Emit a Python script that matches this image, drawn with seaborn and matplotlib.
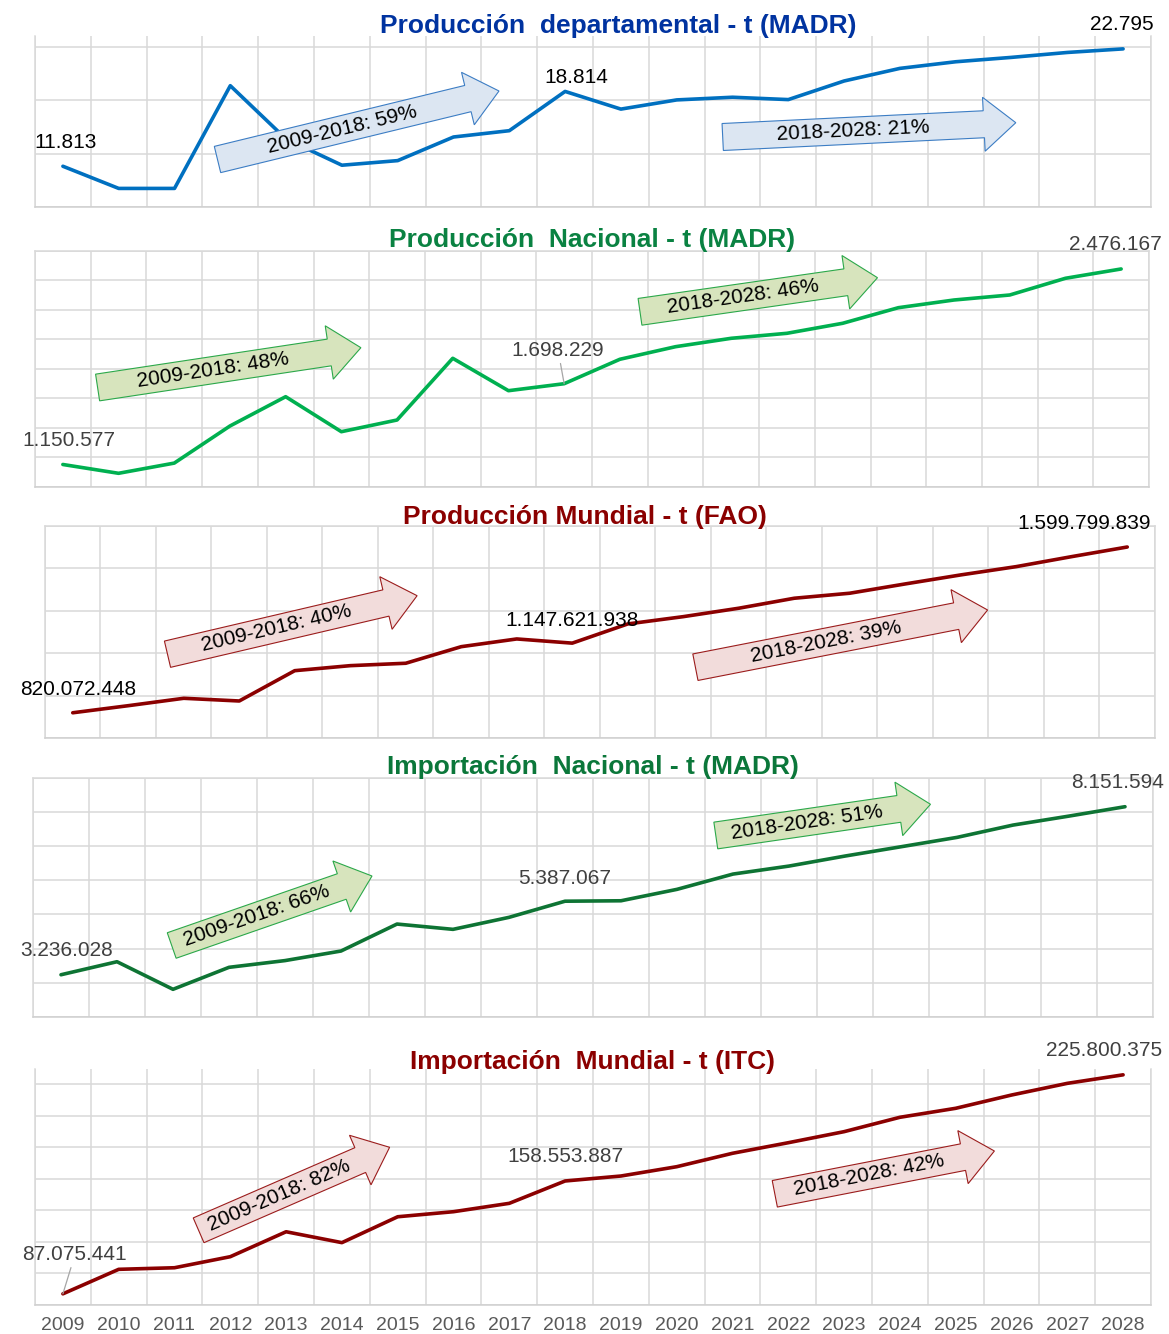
import numpy as np
import pandas as pd
import matplotlib
matplotlib.use("Agg")
import matplotlib.pyplot as plt
import seaborn as sns
from matplotlib.patches import Polygon
from matplotlib.transforms import Affine2D

# datos (t)
years = list(range(2009, 2029))
prod_dep = [11813, 9738, 9738, 19350, 14360, 11910, 12340, 14550, 15140, 18814,
            17160, 18020, 18270, 18050, 19790, 20970, 21590, 22000, 22460, 22795]
prod_nac = [1150577, 1090850, 1160000, 1411500, 1610200, 1372900, 1452200, 1870550, 1650900, 1698229,
            1863800, 1949200, 2006150, 2040000, 2107900, 2213600, 2265800, 2299700, 2413000, 2476167]
prod_mun = [820072448, 853400000, 888200000, 875500000, 1018100000, 1041700000, 1053000000, 1131000000,
            1167300000, 1147621938, 1237900000, 1272200000, 1311800000, 1358800000, 1382400000,
            1426100000, 1468500000, 1507500000, 1554600000, 1599799839]
imp_nac = [3236028, 3617000, 2810000, 3453000, 3650000, 3930000, 4719000, 4564000, 4915000, 5387067,
           5400000, 5734000, 6181000, 6415000, 6708000, 6980000, 7254000, 7614000, 7877000, 8151594]
imp_mun = [87075441, 102600000, 103600000, 110600000, 126400000, 119500000, 135900000, 139100000,
           144400000, 158553887, 161700000, 167600000, 176100000, 182800000, 189800000, 198900000,
           204600000, 213000000, 220400000, 225800375]

titles = ["Producción  departamental - t (MADR)", "Producción  Nacional - t (MADR)",
          "Producción Mundial - t (FAO)", "Importación  Nacional - t (MADR)",
          "Importación  Mundial - t (ITC)"]
growth_1 = ["2009-2018: 59%", "2009-2018: 48%", "2009-2018: 40%", "2009-2018: 66%", "2009-2018: 82%"]
growth_2 = ["2018-2028: 21%", "2018-2028: 46%", "2018-2028: 39%", "2018-2028: 51%", "2018-2028: 42%"]
label_idx = [0, 9, 19]

series = [prod_dep, prod_nac, prod_mun, imp_nac, imp_mun]

# estilos / posiciones (pixeles, origen arriba-izquierda)
W, H = 1169, 1334
rects = [(35, 36, 1151, 207), (35, 250.7, 1149, 486.7), (45, 525.7, 1155, 738.3),
         (33, 777.7, 1153, 1017), (35, 1069.3, 1151, 1305)]
ylims = [(8000, 24000), (1.0e6, 2.6e6), (7.0e8, 1.7e9), (2.0e6, 9.0e6), (8.0e7, 2.293e8)]
yticks = [np.arange(8000, 23001, 5000), np.arange(1.0e6, 2.6e6 + 1, 2e5), np.arange(7e8, 1.7e9 + 1, 2e8),
          np.arange(2e6, 9e6 + 1, 1e6), np.arange(8e7, 2.2e8 + 1, 2e7)]
top_spine = [False, True, True, True, False]
line_colors = ["#0070C0", "#00B050", "#8B0000", "#0E7434", "#8B0000"]
title_colors = ["#0033A0", "#0A8242", "#8B0000", "#0B773A", "#8B0000"]
label_colors = ["black", "#404040", "black", "#404040", "#404040"]
title_pos = [(618, 26.5), (592, 240.5), (585, 517), (593, 767), (593, 1062.5)]
label_off = [[(3, 24), (11, 14), (-1, 24)],
             [(6, 24), (-6, 33), (-6, 24)],
             [(5, 23), (0, 23), (-43, 24)],
             [(6, 24), (0, 23), (-7, 24)],
             [(12, 39), (0, 24), (-19, 24)]]
leader = [[False, False, False], [False, True, False], [False] * 3, [False] * 3, [True, False, False]]
arrows = [[((217.5, 159.5), (499, 91)), ((722.7, 137), (1015.8, 122.7))],
          [((97.6, 387.5), (360.9, 347.7)), ((640, 311.8), (877.5, 277.7))],
          [((167.5, 654.2), (417.1, 595.7)), ((695.4, 667.2), (987.6, 610))],
          [((171.7, 945.5), (372, 876)), ((715.8, 835.5), (930.5, 804.3))],
          [((198.6, 1230.3), (389.6, 1147.3)), ((774.8, 1193.8), (994.4, 1151))]]
arrow_style = [("#DCE6F2", "#3C7DC4"), ("#D7E4BD", "#2BA84A"), ("#F2DCDB", "#9B1C1C"),
               ("#D7E4BD", "#2BA84A"), ("#F2DCDB", "#9B1C1C")]
GRID = "#D9D9D9"

sns.set_style("white")
plt.rcParams["font.family"] = ["Liberation Sans", "DejaVu Sans"]

fig = plt.figure(figsize=(W / 100, H / 100), dpi=100)
pix = Affine2D().scale(1.0 / W, 1.0 / H) + fig.transFigure


def fmt(v):
    return f"{v:,}".replace(",", ".")


def block_arrow(tail, tip, face, edge, label, sw=27, hw=54, hl=32):
    t = np.array([tail[0], H - tail[1]], float)
    p = np.array([tip[0], H - tip[1]], float)
    d = p - t
    L = np.hypot(*d)
    u = d / L
    n = np.array([-u[1], u[0]])
    b = t + u * (L - hl)
    pts = [t + n * sw / 2, b + n * sw / 2, b + n * hw / 2, p, b - n * hw / 2, b - n * sw / 2, t - n * sw / 2]
    fig.add_artist(Polygon(pts, closed=True, facecolor=face, edgecolor=edge, lw=0.8,
                           transform=pix, zorder=5))
    c = t + u * (L - hl) / 2
    fig.text(c[0] / W, c[1] / H, label, rotation=np.degrees(np.arctan2(u[1], u[0])),
             rotation_mode="anchor", ha="center", va="center", fontsize=15, color="black", zorder=6)


for k, vals in enumerate(series):
    l, t, r, b = rects[k]
    ax = fig.add_axes([l / W, 1 - b / H, (r - l) / W, (b - t) / H])
    df = pd.DataFrame({"Año": years, "t": vals})
    sns.lineplot(data=df, x="Año", y="t", ax=ax, color=line_colors[k], linewidth=2.6)
    ax.set(xlabel="", ylabel="")
    ax.set_xlim(2008.5, 2028.5)
    ax.set_ylim(*ylims[k])
    ax.set_xticks(np.arange(2008.5, 2029, 1))
    ax.set_yticks(yticks[k])
    ax.grid(True, which="major", color=GRID, lw=1.1)
    ax.tick_params(which="both", length=0, labelleft=False, labelbottom=False)
    for s in ["left", "right", "bottom", "top"]:
        ax.spines[s].set_color(GRID)
        ax.spines[s].set_linewidth(1.1)
    ax.spines["bottom"].set_color("#CFCFCF")
    ax.spines["top"].set_visible(top_spine[k])

    if k == len(series) - 1:
        ax.set_xticks(years, labels=[str(y) for y in years], minor=True)
        ax.tick_params(axis="x", which="major", length=4, width=1.1, color=GRID)
        ax.tick_params(axis="x", which="minor", length=0, labelbottom=True,
                       labelsize=14, labelcolor="#595959", pad=9)

    for j, i in enumerate(label_idx):
        kw = {}
        if leader[k][j]:
            kw["arrowprops"] = dict(arrowstyle="-", color="#A6A6A6", lw=0.9, shrinkA=0, shrinkB=0)
        ax.annotate(fmt(vals[i]), xy=(years[i], vals[i]), xytext=label_off[k][j],
                    textcoords="offset pixels", ha="center", va="center", fontsize=15,
                    color=label_colors[k], annotation_clip=False, **kw)

    fig.text(title_pos[k][0] / W, 1 - title_pos[k][1] / H, titles[k], ha="center", va="center",
             fontsize=19, fontweight="bold", color=title_colors[k])

    face, edge = arrow_style[k]
    block_arrow(*arrows[k][0], face, edge, growth_1[k])
    block_arrow(*arrows[k][1], face, edge, growth_2[k])

fig.savefig("out.png", dpi=100, facecolor="white")
